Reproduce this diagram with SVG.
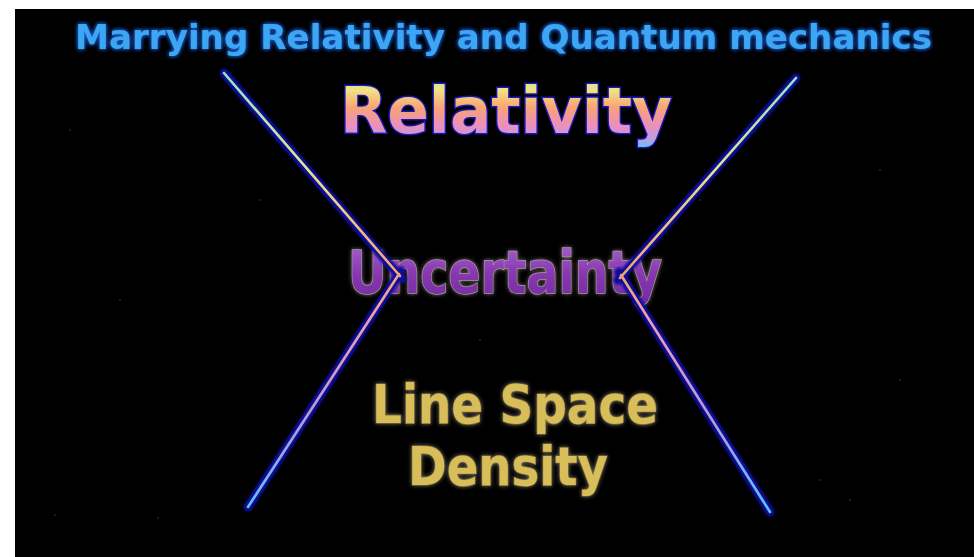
<svg xmlns="http://www.w3.org/2000/svg" width="974" height="557" viewBox="0 0 974 557">
  <defs>
    <linearGradient id="lineGrad" gradientUnits="userSpaceOnUse" x1="0" y1="73" x2="0" y2="512">
      <stop offset="0" stop-color="#90e8b8"/>
      <stop offset="0.22" stop-color="#e8e488"/>
      <stop offset="0.45" stop-color="#f4a474"/>
      <stop offset="0.55" stop-color="#f0a0a8"/>
      <stop offset="0.78" stop-color="#b898d8"/>
      <stop offset="1" stop-color="#58c4f4"/>
    </linearGradient>
    <linearGradient id="relGrad" x1="0" y1="0" x2="0" y2="1">
      <stop offset="0" stop-color="#b0f0a0"/>
      <stop offset="0.22" stop-color="#f2e284"/>
      <stop offset="0.45" stop-color="#f8a474"/>
      <stop offset="0.68" stop-color="#ec90b8"/>
      <stop offset="0.86" stop-color="#c898e0"/>
      <stop offset="1" stop-color="#68c4f4"/>
    </linearGradient>
    <linearGradient id="uncGrad" x1="0" y1="0" x2="0" y2="1">
      <stop offset="0" stop-color="#a868d0"/>
      <stop offset="0.5" stop-color="#8838b0"/>
      <stop offset="1" stop-color="#7028a0"/>
    </linearGradient>
    <filter id="blueGlow" x="-10%" y="-30%" width="120%" height="160%">
      <feGaussianBlur in="SourceAlpha" stdDeviation="2.2" result="b"/>
      <feFlood flood-color="#1e5ad0"/>
      <feComposite in2="b" operator="in" result="g"/>
      <feMerge><feMergeNode in="g"/><feMergeNode in="g"/><feMergeNode in="SourceGraphic"/></feMerge>
    </filter>
    <filter id="lineGlow" x="-20%" y="-5%" width="140%" height="110%">
      <feGaussianBlur stdDeviation="1"/>
    </filter>
    <filter id="softGlow" x="-10%" y="-30%" width="120%" height="160%">
      <feGaussianBlur in="SourceAlpha" stdDeviation="2" result="b"/>
      <feFlood flood-color="#c8b8a0" flood-opacity="0.6"/>
      <feComposite in2="b" operator="in" result="g"/>
      <feMerge><feMergeNode in="g"/><feMergeNode in="SourceGraphic"/></feMerge>
    </filter>
    <style>
      .title { font-family: "DejaVu Sans", Verdana, sans-serif; font-weight: bold; font-size: 33px; fill: #3ea6f2; }
      .rel { font-family: "DejaVu Sans", Verdana, sans-serif; font-weight: bold; font-size: 64px; fill: url(#relGrad); stroke: #1818b8; stroke-width: 3; paint-order: stroke; }
      .unc { font-family: "DejaVu Sans", Verdana, sans-serif; font-weight: bold; font-size: 58px; fill: url(#uncGrad); stroke: #a898a8; stroke-width: 1.5; paint-order: stroke; }
      .lsd { font-family: "DejaVu Sans", Verdana, sans-serif; font-weight: bold; font-size: 54px; fill: #d8be58; stroke: #7a6a30; stroke-width: 1.2; paint-order: stroke; }
      .halo { fill: none; stroke: #0a0c9a; stroke-width: 9; stroke-linecap: round; }
      .core { fill: none; stroke: url(#lineGrad); stroke-width: 2.6; stroke-linecap: round; }
      .star { fill: #3a3a44; }
    </style>
  </defs>
  <rect x="0" y="0" width="974" height="557" fill="#ffffff"/>
  <rect x="15" y="9" width="959" height="548" fill="#000000"/>
  <g id="stars">
    <circle class="star" cx="70" cy="130" r="0.8"/>
    <circle class="star" cx="120" cy="300" r="0.8"/>
    <circle class="star" cx="55" cy="515" r="0.8"/>
    <circle class="star" cx="158" cy="518" r="0.8"/>
    <circle class="star" cx="300" cy="420" r="0.8"/>
    <circle class="star" cx="480" cy="340" r="0.8"/>
    <circle class="star" cx="820" cy="480" r="0.8"/>
    <circle class="star" cx="900" cy="380" r="0.8"/>
    <circle class="star" cx="880" cy="170" r="0.8"/>
    <circle class="star" cx="700" cy="200" r="0.8"/>
    <circle class="star" cx="850" cy="500" r="0.8"/>
    <circle class="star" cx="260" cy="200" r="0.8"/>
  </g>
  <g id="node-title" filter="url(#blueGlow)">
    <text class="title" x="75" y="49" textLength="857" lengthAdjust="spacingAndGlyphs">Marrying Relativity and Quantum mechanics</text>
  </g>
  <g id="node-relativity">
    <text class="rel" x="340" y="133" textLength="332" lengthAdjust="spacingAndGlyphs">Relativity</text>
  </g>
  <g id="node-uncertainty" filter="url(#softGlow)">
    <text class="unc" x="348" y="293" textLength="314" lengthAdjust="spacingAndGlyphs">Uncertainty</text>
  </g>
  <g id="node-density" filter="url(#softGlow)">
    <text class="lsd" x="372" y="423" textLength="286" lengthAdjust="spacingAndGlyphs">Line Space</text>
    <text class="lsd" x="408" y="485" textLength="200" lengthAdjust="spacingAndGlyphs">Density</text>
  </g>
  <g id="connectors">
    <g filter="url(#lineGlow)">
      <line class="halo" x1="224" y1="73" x2="402" y2="279"/>
      <line class="halo" x1="248" y1="507" x2="401" y2="271"/>
      <line class="halo" x1="796" y1="78" x2="618" y2="280"/>
      <line class="halo" x1="770" y1="512" x2="619" y2="272"/>
    </g>
    <line class="core" x1="224" y1="73" x2="400" y2="276"/>
    <line class="core" x1="248" y1="507" x2="399" y2="274"/>
    <line class="core" x1="796" y1="78" x2="620" y2="278"/>
    <line class="core" x1="770" y1="512" x2="621" y2="275"/>
  </g>
</svg>
